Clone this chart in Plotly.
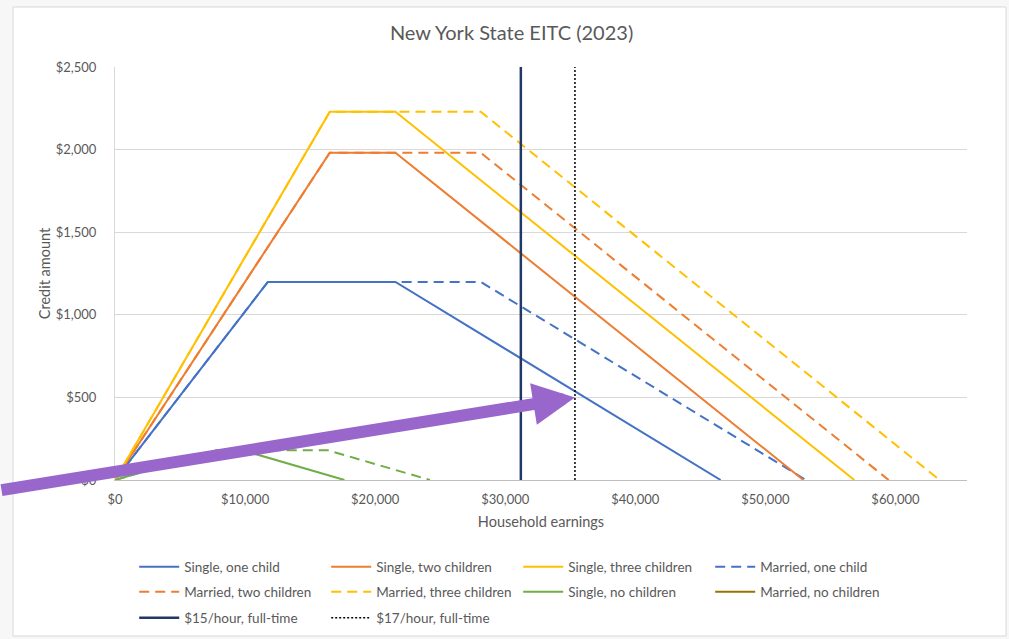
import plotly.graph_objects as go

# NY State EITC = 30% of federal EITC (2023 parameters)
single_one_x = [0, 11750, 21560, 46560]
single_one_y = [0, 1199, 1199, 0]
married_one_x = [0, 11750, 28120, 53120]
married_one_y = [0, 1199, 1199, 0]

single_two_x = [0, 16510, 21560, 52918]
single_two_y = [0, 1981, 1981, 0]
married_two_x = [0, 16510, 28120, 59478]
married_two_y = [0, 1981, 1981, 0]

single_three_x = [0, 16510, 21560, 56838]
single_three_y = [0, 2229, 2229, 0]
married_three_x = [0, 16510, 28120, 63398]
married_three_y = [0, 2229, 2229, 0]

single_none_x = [0, 7840, 9800, 17640]
single_none_y = [0, 180, 180, 0]
married_none_x = [0, 7840, 16370, 24210]
married_none_y = [0, 180, 180, 0]

wage15_x = [31200, 31200]
wage17_x = [35360, 35360]
wage_y = [0, 2500]

x_ticks = [0, 10000, 20000, 30000, 40000, 50000, 60000]
y_ticks = [0, 500, 1000, 1500, 2000, 2500]

BLUE = "#4472C4"
ORANGE = "#ED7D31"
GOLD = "#FFC000"
GREEN = "#70AD47"
NAVY = "#203864"
BROWN = "#997300"
TEXT = "#595959"
FONT = "Lato, Open Sans, sans-serif"

fig = go.Figure()


def add_line(x, y, name, color, dash="solid", legend="legend", rank=1, show=True, width=2):
    fig.add_trace(go.Scatter(
        x=x, y=y, name=name, mode="lines",
        line=dict(color=color, width=width, dash=dash),
        legend=legend, legendrank=rank, showlegend=show,
        hoverinfo="skip"
    ))


DASH = "10px,6px"

# dashed (married) drawn first so solid lines sit on top
add_line(married_none_x, married_none_y, "Married, no children", GREEN, DASH, "legend2", 4, show=False)
add_line(married_one_x, married_one_y, "Married, one child", BLUE, DASH, "legend", 4)
add_line(married_two_x, married_two_y, "Married, two children", ORANGE, DASH, "legend2", 1)
add_line(married_three_x, married_three_y, "Married, three children", GOLD, DASH, "legend2", 2)

add_line(single_one_x, single_one_y, "Single, one child", BLUE, "solid", "legend", 1)
add_line(single_two_x, single_two_y, "Single, two children", ORANGE, "solid", "legend", 2)
add_line(single_three_x, single_three_y, "Single, three children", GOLD, "solid", "legend", 3)
add_line(single_none_x, single_none_y, "Single, no children", GREEN, "solid", "legend2", 3)
# legend entry only (the chart shows this series in its legend as a brown line)
add_line([None], [None], "Married, no children", BROWN, "solid", "legend2", 4)

add_line(wage15_x, wage_y, "$15/hour, full-time", NAVY, "solid", "legend3", 1, width=2.5)
add_line(wage17_x, wage_y, "$17/hour, full-time", "#000000", "2px,2px", "legend3", 2, width=1.5)

fig.add_annotation(
    x=35360, y=500, ax=-585, ay=93, axref="pixel", ayref="pixel",
    text="", showarrow=True, arrowhead=2, arrowsize=0.7, arrowwidth=12,
    arrowcolor="#9966CC", standoff=0
)

# chart border
fig.add_shape(
    type="rect", xref="paper", yref="paper",
    x0=-0.1197, x1=1.0458, y0=-0.3777, y1=1.1453,
    fillcolor="white", line=dict(color="#D9D9D9", width=1), layer="below"
)

legend_common = dict(
    orientation="h", xref="container", yref="container",
    x=0.133, xanchor="left", yanchor="middle",
    entrywidth=137, entrywidthmode="pixels", itemwidth=40,
    font=dict(family=FONT, size=13.5, color=TEXT),
    bgcolor="rgba(0,0,0,0)", traceorder="normal"
)

fig.update_layout(
    width=1009, height=639,
    margin=dict(l=115, r=42, t=67, b=159),
    paper_bgcolor="#F7F7F7", plot_bgcolor="white",
    font=dict(family=FONT, size=13, color=TEXT),
    title=dict(text="New York State EITC (2023)", x=0.507, xanchor="center",
               y=0.948, yanchor="middle",
               font=dict(family=FONT, size=20, color=TEXT)),
    legend=dict(legend_common, y=1 - 567 / 639),
    legend2=dict(legend_common, y=1 - 592 / 639),
    legend3=dict(legend_common, y=1 - 618 / 639),
    xaxis=dict(
        range=[0, 65500], tickvals=x_ticks, tickformat="$,.0f",
        showgrid=False, zeroline=False, showline=True, linecolor="#BFBFBF",
        ticks="", ticklabelstandoff=7,
        title=dict(text="Household earnings", font=dict(size=14.5, color=TEXT), standoff=11),
    ),
    yaxis=dict(
        range=[0, 2500], tickvals=y_ticks, tickformat="$,.0f",
        showgrid=True, gridcolor="#D9D9D9", zeroline=False,
        showline=True, linecolor="#D9D9D9", ticks="", ticklabelstandoff=15,
        title=dict(text="Credit amount", font=dict(size=14.5, color=TEXT), standoff=1),
    ),
)

fig.write_html(
    "out.html",
    config={"displayModeBar": False},
    post_script="document.body.style.margin='0px';",
)
